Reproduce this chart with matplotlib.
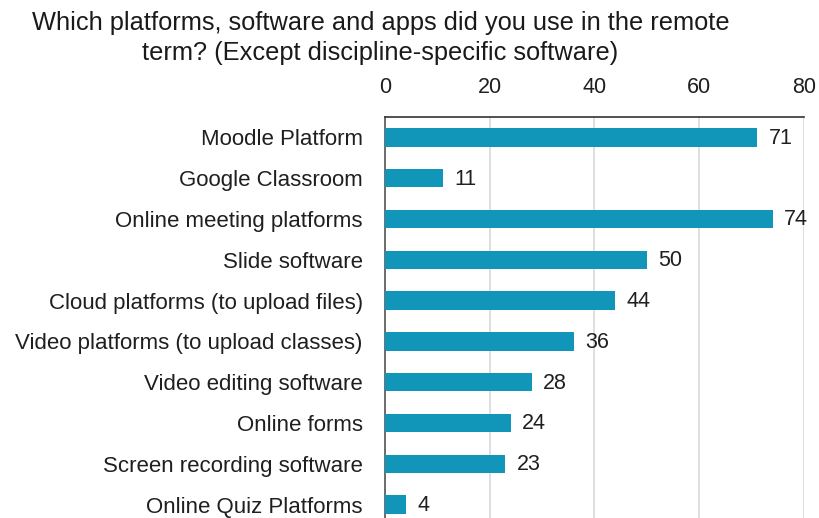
"""Horizontal bar chart of platforms used in the remote term."""

import matplotlib.pyplot as plt

plt.rcParams["font.family"] = ["Liberation Sans", "DejaVu Sans"]

TITLE = ("Which platforms, software and apps did you use in the remote\n"
         "term? (Except discipline-specific software)")

platforms = [
    "Moodle Platform", "Google Classroom", "Online meeting platforms",
    "Slide software", "Cloud platforms (to upload files)",
    "Video platforms (to upload classes)", "Video editing software",
    "Online forms", "Screen recording software", "Online Quiz Platforms",
]
counts = [71, 11, 74, 50, 44, 36, 28, 24, 23, 4]
x_ticks = [0, 20, 40, 60, 80]

BAR_COLOR = "#1196ba"
TXT = "#1f1f1f"

fig = plt.figure(figsize=(8.2, 5.18), dpi=100)
# axes runs off the bottom of the figure, like the cropped original
ax = fig.add_axes([0.4695, -0.0135, 0.511, 0.7876])

ypos = list(range(len(platforms)))
ax.barh(ypos, counts, height=0.45, color=BAR_COLOR, zorder=3)
for y, v in zip(ypos, counts):
    ax.text(v + 2.2, y + 0.02, str(v), va="center", ha="left", fontsize=15.5,
            color=TXT)

ax.set_xlim(0, 80)
ax.set_ylim(len(platforms) - 0.5, -0.5)
ax.set_yticks(ypos)
ax.set_yticklabels(platforms, fontsize=16, color=TXT)
ax.set_xticks(x_ticks)
ax.xaxis.tick_top()
ax.tick_params(axis="x", labelsize=15.5, length=0, pad=14, labelcolor=TXT)
ax.tick_params(axis="y", length=0, pad=16)
ax.grid(axis="x", color="#d9d9d9", lw=1.2, zorder=0)

for side in ["right", "bottom"]:
    ax.spines[side].set_visible(False)
ax.spines["top"].set_color("#333333")
ax.spines["left"].set_color("#555555")
ax.spines["top"].set_linewidth(1.2)
ax.spines["left"].set_linewidth(1.2)

fig.text(0.464, 0.978, TITLE, ha="center", va="top", fontsize=18.3,
         color="#1a1a1a", linespacing=1.3)

fig.savefig("out.png", dpi=100)
